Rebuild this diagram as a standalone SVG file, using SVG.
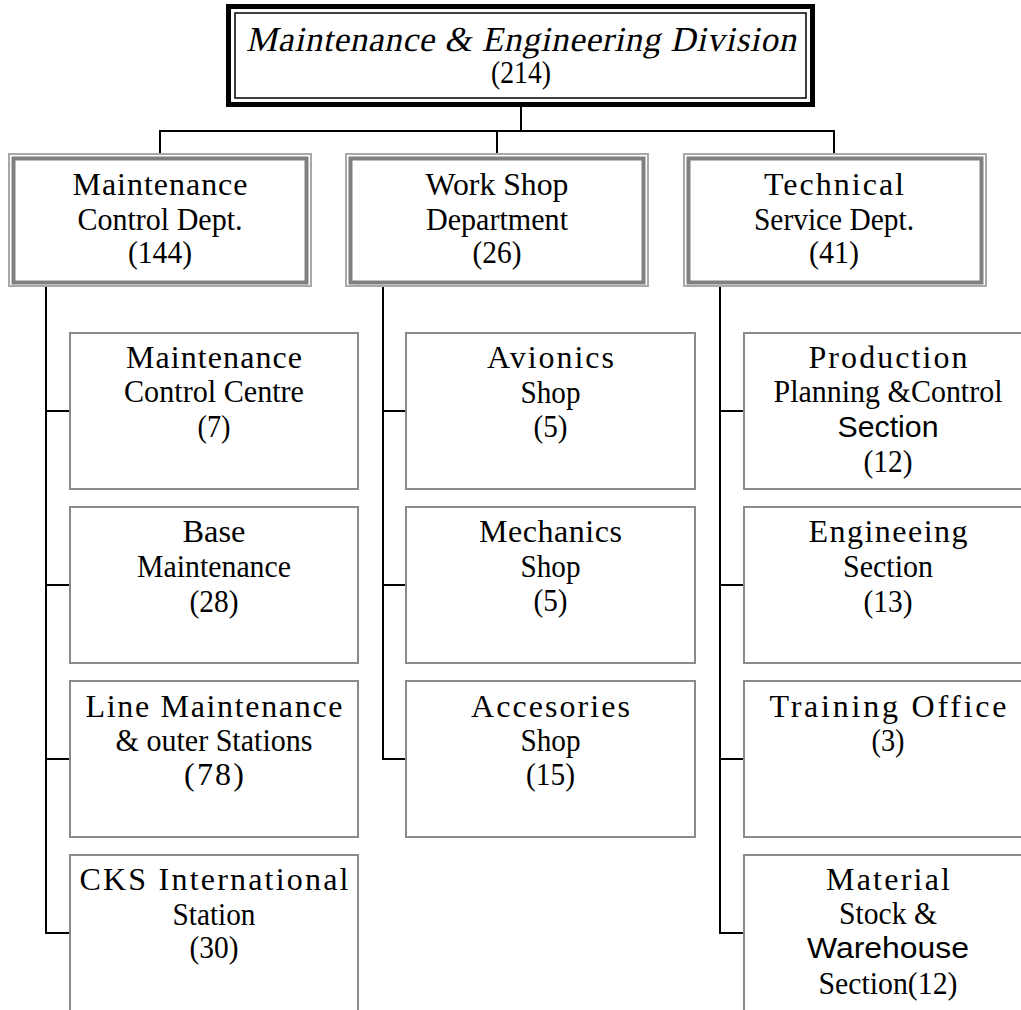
<svg xmlns="http://www.w3.org/2000/svg" width="1021" height="1010" viewBox="0 0 1021 1010">
<style>
.conn{stroke:#000;stroke-width:2;fill:none}
.box{fill:#fff;stroke:#8a8a8a;stroke-width:2}
.dout{fill:#fff;stroke:#a8a8a8;stroke-width:2}
.din{fill:none;stroke:#808080;stroke-width:4}
.t{font-family:"Liberation Serif",serif;font-size:32px;text-anchor:middle;fill:#000}
.ti{font-size:35px}
.s{font-family:"Liberation Sans",sans-serif;font-size:30px;text-anchor:middle;fill:#000}
</style>
<rect width="1021" height="1010" fill="#fff"/>
<g id="connectors">
<path class="conn" d="M521 107V131M160 153V131H834V153M497 131V153"/>
<path class="conn" d="M46 287V933H69M46 411H69M46 585H69M46 759H69"/>
<path class="conn" d="M383 287V759H405M383 411H405M383 585H405"/>
<path class="conn" d="M720 287V933H743M720 411H743M720 585H743M720 759H743"/>
</g>
<g id="division">
<rect x="228.5" y="6.5" width="584" height="98" fill="#fff" stroke="#000" stroke-width="5"/>
<rect x="235" y="13" width="571" height="85" fill="none" stroke="#000" stroke-width="1.5"/>
<text class="t ti" transform="translate(521,51) skewX(-12)" x="0" y="0" textLength="550" lengthAdjust="spacing">Maintenance &amp; Engineering Division</text>
<text class="t" x="521" y="83" textLength="60" lengthAdjust="spacingAndGlyphs">(214)</text>
</g>
<g id="dept-mc">
<rect class="dout" x="9" y="154" width="302" height="132"/>
<rect class="din" x="13.5" y="158.5" width="293" height="124"/>
<text class="t" x="160" y="195" textLength="175" lengthAdjust="spacing">Maintenance</text>
<text class="t" x="160" y="230" textLength="165" lengthAdjust="spacingAndGlyphs">Control Dept.</text>
<text class="t" x="160" y="263" textLength="64" lengthAdjust="spacingAndGlyphs">(144)</text>
</g>
<g id="dept-ws">
<rect class="dout" x="346" y="154" width="302" height="132"/>
<rect class="din" x="350.5" y="158.5" width="293" height="124"/>
<text class="t" x="497" y="195" textLength="143" lengthAdjust="spacingAndGlyphs">Work Shop</text>
<text class="t" x="497" y="230" textLength="142" lengthAdjust="spacingAndGlyphs">Department</text>
<text class="t" x="497" y="263" textLength="49" lengthAdjust="spacingAndGlyphs">(26)</text>
</g>
<g id="dept-ts">
<rect class="dout" x="684" y="154" width="302" height="132"/>
<rect class="din" x="688.5" y="158.5" width="293" height="124"/>
<text class="t" x="834" y="195" textLength="140" lengthAdjust="spacing">Technical</text>
<text class="t" x="834" y="230" textLength="160" lengthAdjust="spacingAndGlyphs">Service Dept.</text>
<text class="t" x="834" y="263" textLength="50" lengthAdjust="spacingAndGlyphs">(41)</text>
</g>
<g id="mcc">
<rect class="box" x="70" y="333" width="288" height="156"/>
<text class="t" x="214" y="368" textLength="176" lengthAdjust="spacing">Maintenance</text>
<text class="t" x="214" y="402" textLength="180" lengthAdjust="spacingAndGlyphs">Control Centre</text>
<text class="t" x="214" y="437" textLength="33" lengthAdjust="spacingAndGlyphs">(7)</text>
</g>
<g id="base">
<rect class="box" x="70" y="507" width="288" height="156"/>
<text class="t" x="214" y="542" textLength="63" lengthAdjust="spacingAndGlyphs">Base</text>
<text class="t" x="214" y="577" textLength="154" lengthAdjust="spacingAndGlyphs">Maintenance</text>
<text class="t" x="214" y="612" textLength="49" lengthAdjust="spacingAndGlyphs">(28)</text>
</g>
<g id="line">
<rect class="box" x="70" y="681" width="288" height="156"/>
<text class="t" x="214" y="717" textLength="257" lengthAdjust="spacing">Line Maintenance</text>
<text class="t" x="214" y="751" textLength="197" lengthAdjust="spacingAndGlyphs">&amp; outer Stations</text>
<text class="t" x="214" y="785" textLength="60" lengthAdjust="spacing">(78)</text>
</g>
<g id="cks">
<rect class="box" x="70" y="855" width="288" height="160"/>
<text class="t" x="214" y="890" textLength="269" lengthAdjust="spacing">CKS International</text>
<text class="t" x="214" y="925" textLength="83" lengthAdjust="spacingAndGlyphs">Station</text>
<text class="t" x="214" y="958" textLength="49" lengthAdjust="spacingAndGlyphs">(30)</text>
</g>
<g id="avionics">
<rect class="box" x="406" y="333" width="289" height="156"/>
<text class="t" x="550.5" y="368" textLength="127" lengthAdjust="spacing">Avionics</text>
<text class="t" x="550.5" y="403" textLength="60" lengthAdjust="spacingAndGlyphs">Shop</text>
<text class="t" x="550.5" y="437" textLength="34" lengthAdjust="spacingAndGlyphs">(5)</text>
</g>
<g id="mechanics">
<rect class="box" x="406" y="507" width="289" height="156"/>
<text class="t" x="550.5" y="542" textLength="143" lengthAdjust="spacing">Mechanics</text>
<text class="t" x="550.5" y="577" textLength="60" lengthAdjust="spacingAndGlyphs">Shop</text>
<text class="t" x="550.5" y="611" textLength="34" lengthAdjust="spacingAndGlyphs">(5)</text>
</g>
<g id="accesories">
<rect class="box" x="406" y="681" width="289" height="156"/>
<text class="t" x="550.5" y="717" textLength="159" lengthAdjust="spacing">Accesories</text>
<text class="t" x="550.5" y="751" textLength="60" lengthAdjust="spacingAndGlyphs">Shop</text>
<text class="t" x="550.5" y="785" textLength="49" lengthAdjust="spacingAndGlyphs">(15)</text>
</g>
<g id="ppc">
<rect class="box" x="744" y="333" width="289" height="156"/>
<text class="t" x="888" y="368" textLength="159" lengthAdjust="spacing">Production</text>
<text class="t" x="888" y="402" textLength="229" lengthAdjust="spacingAndGlyphs">Planning &amp;Control</text>
<text class="s" x="888" y="437" textLength="101" lengthAdjust="spacingAndGlyphs">Section</text>
<text class="t" x="888" y="472" textLength="49" lengthAdjust="spacingAndGlyphs">(12)</text>
</g>
<g id="engineering">
<rect class="box" x="744" y="507" width="289" height="156"/>
<text class="t" x="888" y="542" textLength="159" lengthAdjust="spacing">Engineeing</text>
<text class="t" x="888" y="577" textLength="90" lengthAdjust="spacingAndGlyphs">Section</text>
<text class="t" x="888" y="612" textLength="49" lengthAdjust="spacingAndGlyphs">(13)</text>
</g>
<g id="training">
<rect class="box" x="744" y="681" width="289" height="156"/>
<text class="t" x="888" y="717" textLength="237" lengthAdjust="spacing">Training Office</text>
<text class="t" x="888" y="751" textLength="33" lengthAdjust="spacingAndGlyphs">(3)</text>
</g>
<g id="material">
<rect class="box" x="744" y="855" width="289" height="160"/>
<text class="t" x="888" y="890" textLength="124" lengthAdjust="spacing">Material</text>
<text class="t" x="888" y="924" textLength="98" lengthAdjust="spacingAndGlyphs">Stock &amp;</text>
<text class="s" x="888" y="958" textLength="162" lengthAdjust="spacingAndGlyphs">Warehouse</text>
<text class="t" x="888" y="994" textLength="139" lengthAdjust="spacingAndGlyphs">Section(12)</text>
</g>
</svg>
